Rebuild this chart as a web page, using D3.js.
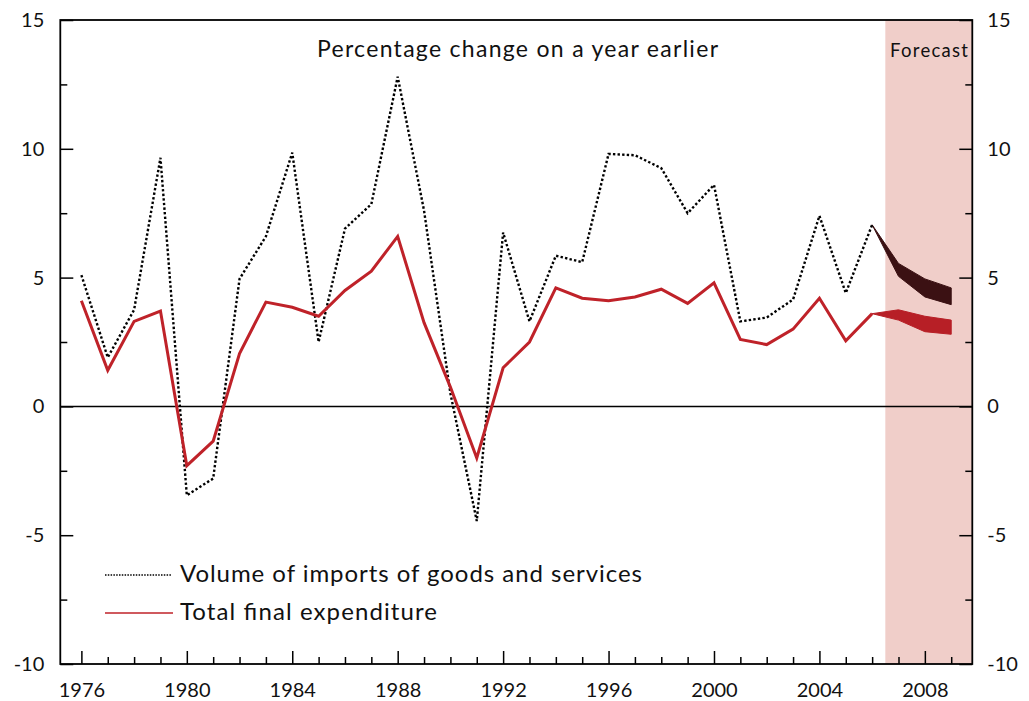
<!DOCTYPE html>
<html>
<head>
<meta charset="utf-8">
<script src="https://cdn.jsdelivr.net/npm/d3@7"></script>
<style>
  html, body { margin: 0; padding: 0; background: #fff; }
  svg { display: block; }
  text { font-family: Lato, "Open Sans", sans-serif; fill: #111; }
</style>
</head>
<body>
<svg id="chart" width="1029" height="701"></svg>
<script>
// ---- data ----
const years = d3.range(1976, 2007);
const importsVol = [5.1, 1.9, 3.75, 9.65, -3.45, -2.8, 4.95, 6.6, 9.85, 2.5, 6.9, 7.85, 12.8, 7.6, 0.5, -4.45,
  6.75, 3.3, 5.85, 5.6, 9.8, 9.75, 9.25, 7.5, 8.6, 3.3, 3.45, 4.15, 7.4, 4.4, 7.05];
const totalFinalExp = [4.1, 1.4, 3.3, 3.7, -2.3, -1.35, 2.05, 4.05, 3.85, 3.5, 4.5, 5.25, 6.6, 3.25, 0.75, -2.0,
  1.5, 2.5, 4.6, 4.2, 4.1, 4.25, 4.55, 4.0, 4.8, 2.6, 2.4, 3.0, 4.2, 2.55, 3.6];
const forecastYears = [2006, 2007, 2008, 2009];
const importsUpper = [7.05, 5.55, 4.95, 4.6];
const importsLower = [7.05, 5.05, 4.25, 3.95];
const tfeUpper = [3.6, 3.75, 3.5, 3.35];
const tfeLower = [3.6, 3.35, 2.9, 2.8];
const yMajorTicks = [-10, -5, 0, 5, 10, 15];
const yMinorTicks = [-7.5, -2.5, 2.5, 7.5, 12.5];
const xLabelYears = [1976, 1980, 1984, 1988, 1992, 1996, 2000, 2004, 2008];
const forecastStart = 2006.5;
const title = "Percentage change on a year earlier";
const legendLabels = ["Volume of imports of goods and services", "Total final expenditure"];

// ---- layout ----
const svg = d3.select("#chart");
const L = 60.3, R = 972.3, T = 20, B = 664;
const x = d3.scaleLinear().domain([1975.2, 2009.8]).range([L, R]);
const y = d3.scaleLinear().domain([-10, 15]).range([B, T]);
const fmt = d => String(d);

// forecast shading
svg.append("rect")
  .attr("x", x(forecastStart)).attr("y", T)
  .attr("width", x(2009.8) - x(forecastStart)).attr("height", B - T)
  .attr("fill", "#f0cec9");

svg.append("text")
  .attr("x", 890).attr("y", 57)
  .attr("font-size", 18.5).attr("textLength", 78).attr("lengthAdjust", "spacing")
  .text("Forecast");

// title
svg.append("text")
  .attr("x", 317).attr("y", 57)
  .attr("font-size", 23).attr("textLength", 401).attr("lengthAdjust", "spacing")
  .text(title);

// zero line
svg.append("line")
  .attr("x1", L).attr("x2", R).attr("y1", y(0)).attr("y2", y(0))
  .attr("stroke", "#000").attr("stroke-width", 1.5);

// fans
const area = d3.area()
  .x((d, i) => x(forecastYears[i]))
  .y0(d => y(d[0])).y1(d => y(d[1]));
svg.append("path")
  .datum(importsUpper.map((u, i) => [importsLower[i], u]))
  .attr("d", area).attr("fill", "#3b1113").attr("stroke", "#3b1113").attr("stroke-width", 1);
svg.append("path")
  .datum(tfeUpper.map((u, i) => [tfeLower[i], u]))
  .attr("d", area).attr("fill", "#b71f26").attr("stroke", "#b71f26").attr("stroke-width", 1);

// lines
const line = d3.line().x((d, i) => x(years[i])).y(d => y(d));
svg.append("path").datum(importsVol).attr("d", line)
  .attr("fill", "none").attr("stroke", "#000").attr("stroke-width", 2.4)
  .attr("stroke-dasharray", "2.4,2.2");
svg.append("path").datum(totalFinalExp).attr("d", line)
  .attr("fill", "none").attr("stroke", "#bf2229").attr("stroke-width", 3)
  .attr("stroke-linejoin", "miter");

// axes
function styleAxis(g) {
  g.select(".domain").remove();
  g.selectAll(".tick line").attr("stroke", "#000").attr("stroke-width", 1.5);
  g.selectAll(".tick text").attr("font-family", "Lato, sans-serif").attr("font-size", 20).attr("fill", "#111");
}
// left
svg.append("g").attr("transform", `translate(${L},0)`)
  .call(d3.axisLeft(y).tickValues(yMajorTicks).tickSize(-13).tickPadding(16).tickFormat(fmt))
  .call(styleAxis);
svg.append("g").attr("transform", `translate(${L},0)`)
  .call(d3.axisLeft(y).tickValues(yMinorTicks).tickSize(-7).tickFormat(""))
  .call(styleAxis);
// right
svg.append("g").attr("transform", `translate(${R},0)`)
  .call(d3.axisRight(y).tickValues(yMajorTicks).tickSize(-13).tickPadding(15).tickFormat(fmt))
  .call(styleAxis);
svg.append("g").attr("transform", `translate(${R},0)`)
  .call(d3.axisRight(y).tickValues(yMinorTicks).tickSize(-7).tickFormat(""))
  .call(styleAxis);
// bottom
const allYears = d3.range(1976, 2010);
svg.append("g").attr("transform", `translate(0,${B})`)
  .call(d3.axisBottom(x).tickValues(xLabelYears).tickSize(-13).tickPadding(19).tickFormat(fmt))
  .call(styleAxis);
svg.append("g").attr("transform", `translate(0,${B})`)
  .call(d3.axisBottom(x).tickValues(allYears.filter(v => (v - 1976) % 4 !== 0)).tickSize(-7).tickFormat(""))
  .call(styleAxis);

// frame
svg.append("rect")
  .attr("x", L).attr("y", T).attr("width", R - L).attr("height", B - T)
  .attr("fill", "none").attr("stroke", "#000").attr("stroke-width", 1.8);

// legend
const lg = svg.append("g");
lg.append("line").attr("x1", 105).attr("x2", 172).attr("y1", 575).attr("y2", 575)
  .attr("stroke", "#000").attr("stroke-width", 1.4).attr("stroke-dasharray", "1.5,1.3");
lg.append("line").attr("x1", 105).attr("x2", 173).attr("y1", 613).attr("y2", 613)
  .attr("stroke", "#bf2229").attr("stroke-width", 1.6);
lg.append("text").attr("x", 180).attr("y", 582).attr("font-size", 24)
  .attr("textLength", 462).attr("lengthAdjust", "spacing").text(legendLabels[0]);
lg.append("text").attr("x", 180).attr("y", 620).attr("font-size", 24)
  .attr("textLength", 257).attr("lengthAdjust", "spacing").text(legendLabels[1]);
</script>
</body>
</html>
